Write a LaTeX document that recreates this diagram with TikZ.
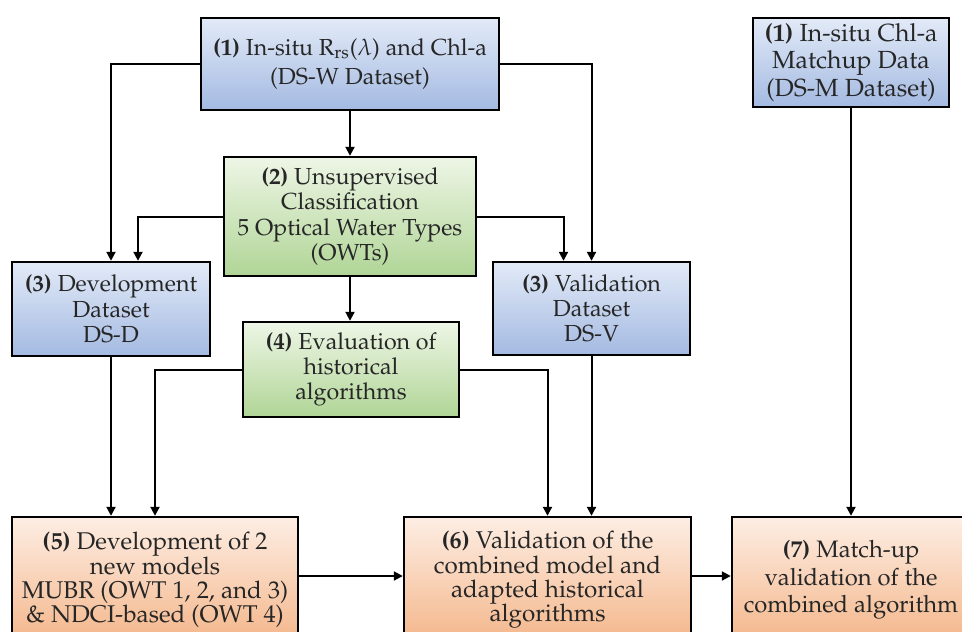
\documentclass[tikz,border=0pt]{standalone}
\usepackage[T1]{fontenc}
\usepackage{mathpazo}
\usetikzlibrary{arrows.meta, calc}

\definecolor{blueTop}{RGB}{226,234,247}
\definecolor{blueBot}{RGB}{164,186,226}
\definecolor{greenTop}{RGB}{238,246,230}
\definecolor{greenBot}{RGB}{176,213,150}
\definecolor{orangeTop}{RGB}{253,238,228}
\definecolor{orangeBot}{RGB}{244,182,138}

\tikzset{
  box/.style={draw=black, line width=1.2pt, align=center, inner sep=1pt,
    font=\fontsize{11.6}{12.6}\selectfont, text=black!85},
  bluebox/.style={box, top color=blueTop, bottom color=blueBot},
  greenbox/.style={box, top color=greenTop, bottom color=greenBot},
  orangebox/.style={box, top color=orangeTop, bottom color=orangeBot,
    font=\fontsize{12.1}{12.2}\selectfont},
  flow/.style={-{Triangle[length=4.5pt,width=4.5pt]}, line width=1pt},
}

\begin{document}
\begin{tikzpicture}[x=0.5pt, y=-0.5pt]
  \path[use as bounding box] (0,0) rectangle (962,631);
  \clip (0,0) rectangle (962,631);

  % data sets
  \node[bluebox, minimum width=149pt, minimum height=46pt,
        font=\fontsize{11.6}{14.5}\selectfont] (insitu) at (350,64)
    {\textbf{(1)} In-situ R\textsubscript{rs}($\lambda$) and Chl-a\\(DS-W Dataset)};
  \node[bluebox, minimum width=98pt, minimum height=44.5pt,
        font=\fontsize{12.4}{13.6}\selectfont] (matchup) at (851,62.5)
    {\textbf{(1)} In-situ Chl-a\\Matchup Data\\(DS-M Dataset)};
  \node[greenbox, minimum width=126pt, minimum height=59.5pt] (classif) at (350,216.5)
    {\textbf{(2)} Unsupervised\\Classification\\5 Optical Water Types\\(OWTs)};
  \node[bluebox, minimum width=99pt, minimum height=47pt] (devset) at (111,309)
    {\textbf{(3)} Development\\Dataset\\DS-D};
  \node[bluebox, minimum width=98.5pt, minimum height=46.5pt] (valset) at (591.5,308.5)
    {\textbf{(3)} Validation\\Dataset\\DS-V};
  \node[greenbox, minimum width=108pt, minimum height=47.5pt] (histeval) at (351,369.5)
    {\textbf{(4)} Evaluation of\\historical\\algorithms};

  % models and validation
  \node[orangebox, minimum width=143pt, minimum height=63pt] (devmodel) at (155,580)
    {\textbf{(5)} Development of 2\\new models\\MUBR (OWT 1, 2, and 3)\\\& NDCI-based (OWT 4)};
  \node[orangebox, minimum width=143.5pt, minimum height=63pt] (valmodel) at (547.5,580)
    {\textbf{(6)} Validation of the\\combined model and\\adapted historical\\algorithms};
  \node[orangebox, minimum width=119pt, minimum height=63pt,
        font=\fontsize{11.9}{13.8}\selectfont] (mupval) at (851,580)
    {\textbf{(7)} Match-up\\validation of the\\combined algorithm};

  % connectors
  \draw[flow] (insitu.west) -| (devset.north);
  \draw[flow] (insitu.east) -| (valset.north);
  \draw[flow] (insitu) -- (classif);
  \draw[flow] (classif.west) -| ($(devset.north)+(27,0)$);
  \draw[flow] (classif.east) -| ($(valset.north)+(-28,0)$);
  \draw[flow] (classif) -- (classif.south |- histeval.north);
  \draw[flow] (devset) -- (devset.south |- devmodel.north);
  \draw[flow] (histeval.west) -| (devmodel.north);
  \draw[flow] (histeval.east) -| (valmodel.north);
  \draw[flow] (valset) -- (valset.south |- valmodel.north);
  \draw[flow] (matchup) -- (matchup.south |- mupval.north);
  \draw[flow] ($(devmodel.east)+(0,-4)$) -- ($(valmodel.west)+(0,-4)$);
  \draw[flow] ($(valmodel.east)+(0,-4)$) -- ($(mupval.west)+(0,-4)$);
\end{tikzpicture}
\end{document}
